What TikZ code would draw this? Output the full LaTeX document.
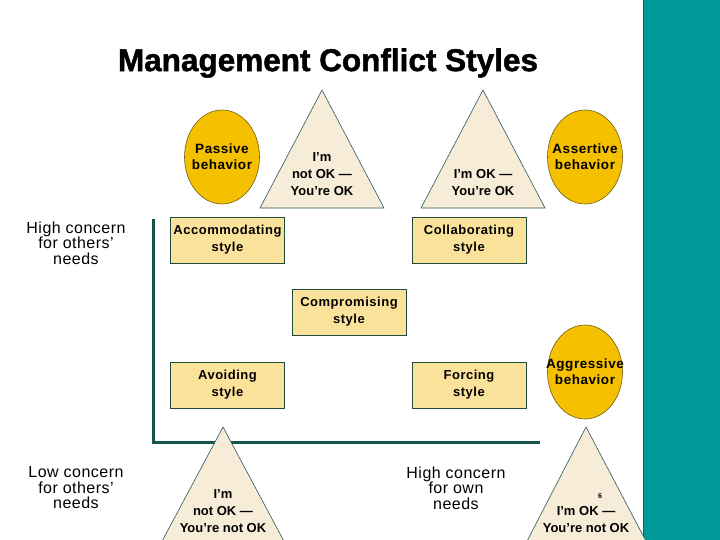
\documentclass[tikz,border=0pt]{standalone}
\usepackage{fontspec}
\setmainfont{Liberation Sans}
\newfontfamily\titlefont[BoldFeatures={FakeBold=1.5}]{Liberation Sans}
\newfontfamily\spacedfont[LetterSpace=4]{Liberation Sans}
\newfontfamily\labelfont[LetterSpace=3]{Liberation Sans}
\usetikzlibrary{shapes.geometric}
\definecolor{gold}{RGB}{245,192,0}
\definecolor{goldline}{RGB}{110,95,20}
\definecolor{boxfill}{RGB}{251,226,154}
\definecolor{boxline}{RGB}{30,75,60}
\definecolor{trifill}{RGB}{246,236,216}
\definecolor{triline}{RGB}{40,90,90}
\definecolor{axis}{RGB}{20,85,75}
\definecolor{panel}{RGB}{0,153,153}
\tikzset{
  behav/.style={draw=goldline, fill=gold, line width=0.6pt},
  behavtext/.style={align=center, inner sep=0pt, font=\fontsize{13.5}{16}\selectfont\spacedfont\bfseries},
  stylebox/.style={rectangle, draw=boxline, fill=boxfill, line width=0.6pt, minimum width=114pt, minimum height=46pt, inner sep=0pt, align=center, font=\fontsize{13}{17}\selectfont\spacedfont\bfseries},
  tri/.style={draw=triline, fill=trifill, line width=0.6pt},
  tritext/.style={align=center, inner sep=0pt, font=\fontsize{13}{17}\selectfont\bfseries},
  concern/.style={align=center, inner sep=0pt, font=\fontsize{16}{15.5}\selectfont\labelfont},
  axisline/.style={draw=axis, line width=3pt}
}
\begin{document}
\begin{tikzpicture}[x=1pt,y=-1pt]
\useasboundingbox (0,0) rectangle (720,540);
\clip (0,0) rectangle (720,540);
\fill[white] (0,0) rectangle (720,540);
% right panel
\fill[panel] (643,0) rectangle (720,540);
\draw[black!70, line width=0.6pt] (643,0) -- (643,540);
% title
\node[inner sep=0pt] (title) at (328,63) {\fontsize{31.5}{31}\selectfont\titlefont\bfseries Management Conflict Styles};
% axes
\coordinate (top) at (153,219);
\coordinate (origin) at (153,442);
\coordinate (right) at (540,442);
\draw[axisline] (top) -- (origin) -- (right);
% triangles
\path[tri] (322,90) -- (260,208) -- (384,208) -- cycle;
\node[tritext] (t1) at (322,174) {I’m\\not OK —\\You’re OK};
\path[tri] (483,90) -- (421,208) -- (545,208) -- cycle;
\node[tritext] (t2) at (483,183) {I’m OK —\\You’re OK};
\path[tri] (223,427) -- (160,545) -- (286,545) -- cycle;
\node[tritext] (t3) at (223,511) {I’m\\not OK —\\You’re not OK};
\path[tri] (586,427) -- (525,545) -- (648,545) -- cycle;
\node[tritext] (t4) at (586,520) {I’m OK —\\You’re not OK};
\node[inner sep=0pt, font=\fontsize{7}{7}\selectfont\bfseries] (num) at (600,496) {6};
% ellipses
\path[behav] (222,157) ellipse [x radius=37.5, y radius=47];
\node[behavtext] (passive) at (222,157) {Passive\\behavior};
\path[behav] (585,157) ellipse [x radius=37.5, y radius=47];
\node[behavtext] (assertive) at (585,157) {Assertive\\behavior};
\path[behav] (585,372) ellipse [x radius=37.5, y radius=47];
\node[behavtext] (aggressive) at (585,372) {Aggressive\\behavior};
% style boxes
\node[stylebox] (accom) at (227.5,240) {Accommodating\\style};
\node[stylebox] (collab) at (469,240) {Collaborating\\style};
\node[stylebox] (compro) at (349,312) {Compromising\\style};
\node[stylebox] (avoid) at (227.5,385) {Avoiding\\style};
\node[stylebox] (forcing) at (469,385) {Forcing\\style};
% concern labels
\node[concern] (hiothers) at (76,243) {High concern\\for others’\\needs};
\node[concern] (loothers) at (76,488) {Low concern\\for others’\\needs};
\node[concern] (hiown) at (456,488) {High concern\\for own\\needs};
\end{tikzpicture}
\end{document}
